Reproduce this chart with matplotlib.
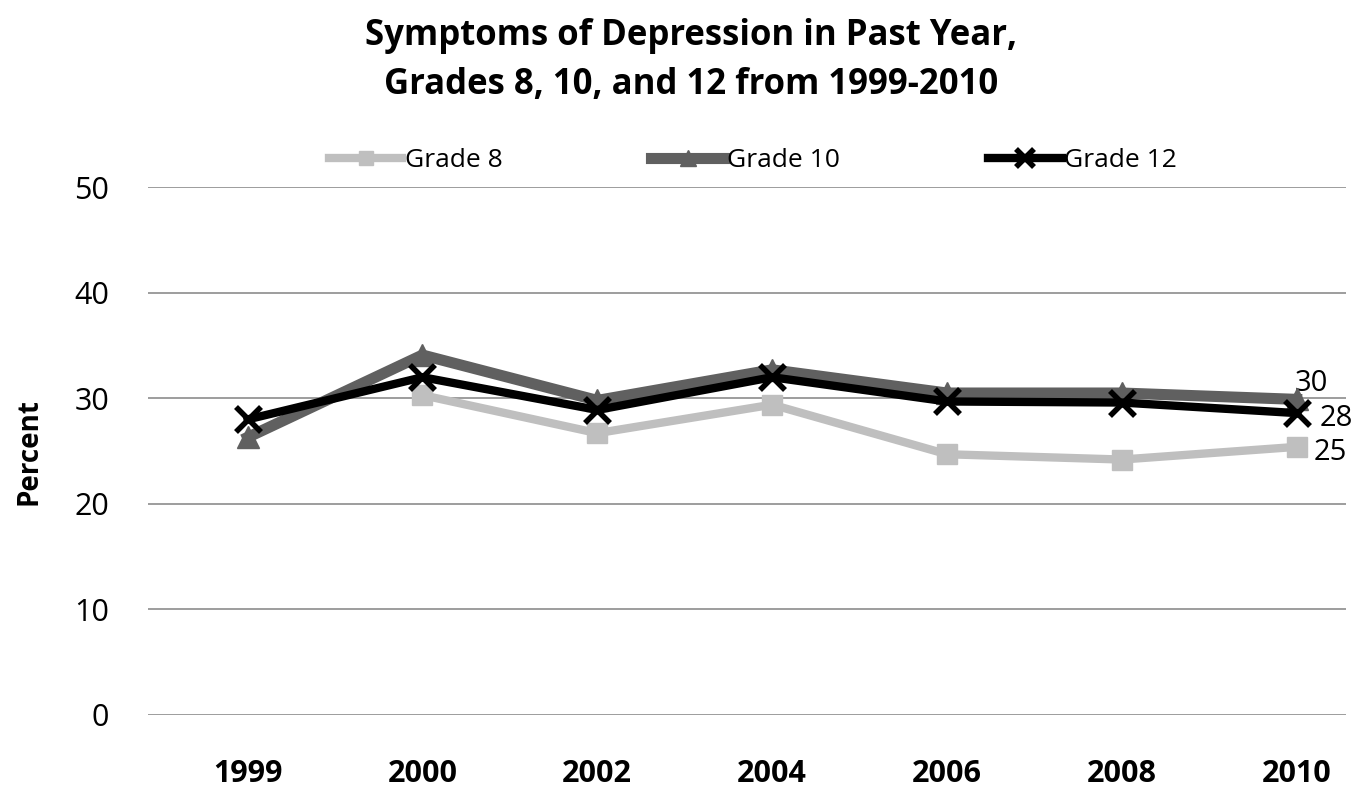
import matplotlib.pyplot as plt
import numpy as np

years = ["1999", "2000", "2002", "2004", "2006", "2008", "2010"]
grade8 = [np.nan, 30.3, 26.7, 29.4, 24.7, 24.2, 25.4]
grade10 = [26.3, 34.1, 29.8, 32.7, 30.5, 30.5, 29.9]
grade12 = [28.0, 32.0, 28.9, 32.0, 29.7, 29.6, 28.6]
end_labels = ["25", "30", "28"]

plt.rcParams['font.family'] = ['Open Sans', 'DejaVu Sans']

fig = plt.figure(figsize=(13.64, 7.90), dpi=100)
ax = fig.add_axes([0.1085, 0.095, 0.878, 0.668])

x = np.arange(len(years))
l8, = ax.plot(x, grade8, color='#bfbfbf', lw=6, marker='s', ms=14,
              label='Grade 8', zorder=3)
l10, = ax.plot(x, grade10, color='#606060', lw=8, marker='^', ms=16,
               label='Grade 10', zorder=4)
l12, = ax.plot(x, grade12, color='black', lw=6, marker='x', ms=18, mew=4,
               label='Grade 12', zorder=5)

# end value labels
ax.text(x[-1] - 0.01, grade10[-1] + 1.5, end_labels[1], fontsize=21,
        va='center')
ax.text(x[-1] + 0.13, grade12[-1] - 0.5, end_labels[2], fontsize=21,
        va='center')
ax.text(x[-1] + 0.1, grade8[-1] - 0.5, end_labels[0], fontsize=21,
        va='center')

ax.set_ylim(0, 50)
ax.set_yticks(range(0, 51, 10))
ax.set_xlim(-0.57, 6.28)
ax.set_xticks(x)
ax.set_xticklabels(years, fontweight='bold')
ax.tick_params(axis='both', length=0, labelsize=22)
ax.tick_params(axis='y', pad=28)
ax.tick_params(axis='x', pad=32)
ax.grid(axis='y', color='#8c8c8c', lw=1.2)
ax.set_axisbelow(True)
for s in ax.spines.values():
    s.set_visible(False)

ax.set_ylabel('Percent', fontsize=20, fontweight='bold', labelpad=22)

fig.text(0.507, 0.955, 'Symptoms of Depression in Past Year,', ha='center',
         va='center', fontsize=25, fontweight='bold')
fig.text(0.507, 0.892, 'Grades 8, 10, and 12 from 1999-2010', ha='center',
         va='center', fontsize=25, fontweight='bold')

fig.legend(handles=[l8, l10, l12], loc='center', bbox_to_anchor=(0.552, 0.797),
           ncol=3, frameon=False, fontsize=19, handlelength=2.8,
           columnspacing=5.6, handletextpad=0.1, markerscale=0.75)

plt.savefig('out.png')
